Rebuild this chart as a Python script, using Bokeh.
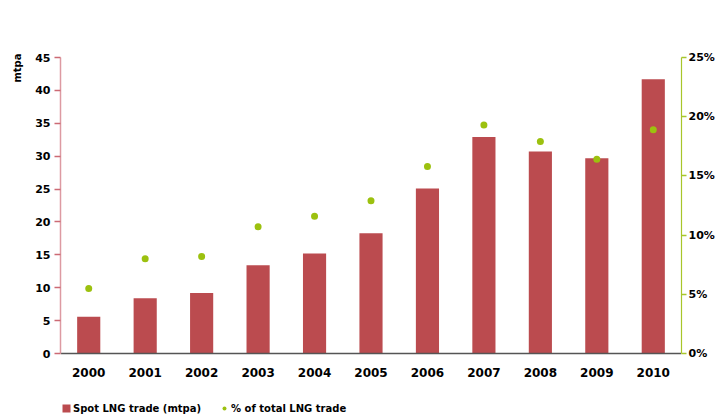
from bokeh.plotting import figure
from bokeh.models import (Range1d, FactorRange, LinearAxis, FixedTicker, NumeralTickFormatter,
                          Legend, LegendItem, Title)
from bokeh.embed import file_html
from bokeh.resources import INLINE

years = ["2000", "2001", "2002", "2003", "2004", "2005", "2006", "2007", "2008", "2009", "2010"]
spot_mtpa = [5.6, 8.4, 9.2, 13.4, 15.2, 18.3, 25.1, 32.9, 30.7, 29.7, 41.7]
pct_total = [0.055, 0.080, 0.082, 0.107, 0.116, 0.129, 0.158, 0.193, 0.179, 0.164, 0.189]
left_ticks = [0, 5, 10, 15, 20, 25, 30, 35, 40, 45]
right_ticks = [0, 0.05, 0.10, 0.15, 0.20, 0.25]

FONT = "DejaVu Sans"
BAR = "#bb4b4f"
DOT = "#9cc10f"

# the plot area runs down to the bottom edge so that the axis labels and legend sit inside it;
# the value axes are bounded to their data span
LEFT_MAX = 45
RIGHT_MAX = 0.25
BELOW_FRAC = 65 / 296  # space below the zero line relative to the 0..max span

p = figure(width=717, height=418, output_backend="svg", toolbar_location=None,
           x_range=FactorRange(*years),
           y_range=Range1d(-LEFT_MAX * BELOW_FRAC, LEFT_MAX),
           min_border_left=60, min_border_right=34, min_border_top=57, min_border_bottom=0)
p.outline_line_color = None
p.xgrid.visible = False
p.ygrid.visible = False
p.background_fill_color = "white"
p.border_fill_color = "white"

p.extra_y_ranges = {"pct": Range1d(-RIGHT_MAX * BELOW_FRAC, RIGHT_MAX)}

bars = p.vbar(x=years, top=spot_mtpa, bottom=0, width=0.41, fill_color=BAR, line_color=None)
dots = p.scatter(x=years, y=pct_total, y_range_name="pct", size=7, fill_color=DOT, line_color=None)

# left axis
ya = p.yaxis[0]
ya.ticker = FixedTicker(ticks=left_ticks)
ya.bounds = (0, LEFT_MAX)
ya.axis_line_color = "#dd9aa2"
ya.axis_line_width = 1.5
ya.major_tick_line_color = "#cc6a74"
ya.major_tick_line_width = 1.5
ya.major_tick_out = 6
ya.major_tick_in = 0
ya.minor_tick_line_color = None
ya.major_label_text_font = FONT
ya.major_label_text_font_style = "bold"
ya.major_label_text_font_size = "11px"
ya.major_label_text_color = "black"
ya.major_label_standoff = 4

# right axis
ra = LinearAxis(y_range_name="pct", ticker=FixedTicker(ticks=right_ticks),
                formatter=NumeralTickFormatter(format="0%"), bounds=(0, RIGHT_MAX))
ra.axis_line_color = "#a8c62a"
ra.axis_line_width = 1.2
ra.major_tick_line_color = "#a8c62a"
ra.major_tick_line_width = 1.5
ra.major_tick_out = 5
ra.major_tick_in = 0
ra.minor_tick_line_color = None
ra.major_label_text_font = FONT
ra.major_label_text_font_style = "bold"
ra.major_label_text_font_size = "11px"
ra.major_label_text_color = "black"
ra.major_label_standoff = 2
p.add_layout(ra, "right")

# x axis drawn at the zero line
xa = p.xaxis[0]
xa.fixed_location = 0
xa.axis_line_color = "#555555"
xa.axis_line_width = 1.5
xa.major_tick_line_color = None
xa.minor_tick_line_color = None
xa.major_label_text_font = FONT
xa.major_label_text_font_style = "bold"
xa.major_label_text_font_size = "12px"
xa.major_label_text_color = "black"
xa.major_label_standoff = 8

# axis title (rotated, at the top of the left axis)
p.add_layout(Title(text="mtpa", align="right", text_font=FONT, text_font_style="bold",
                   text_font_size="10px", text_color="black", standoff=19, offset=-4), "left")

legend = Legend(items=[LegendItem(label="Spot LNG trade (mtpa)", renderers=[bars]),
                       LegendItem(label="% of total LNG trade", renderers=[dots])],
                orientation="horizontal", location=(1, 4),
                glyph_width=10, glyph_height=10, label_height=12, label_standoff=2, spacing=18,
                padding=0, margin=0, border_line_color=None, background_fill_alpha=0,
                label_text_font=FONT, label_text_font_style="bold", label_text_font_size="10px",
                label_text_color="black")
p.add_layout(legend)

open("out.html", "w").write(file_html(p, INLINE))
